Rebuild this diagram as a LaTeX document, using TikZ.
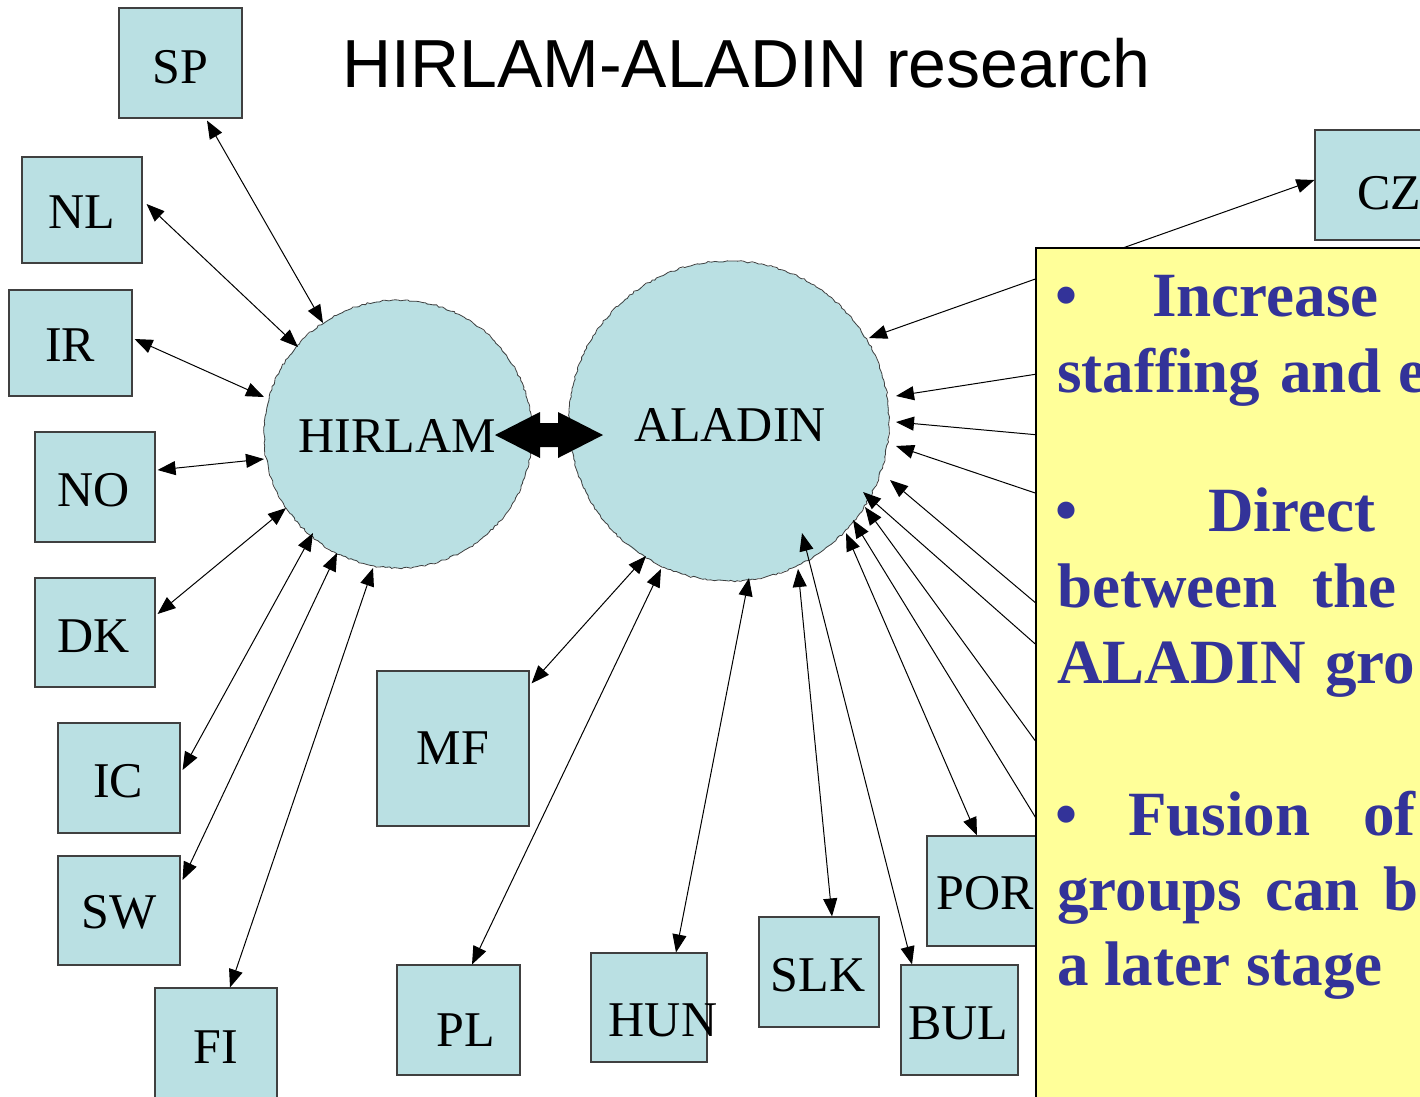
\documentclass[tikz,border=0pt]{standalone}
\usepackage{fontspec}
\setmainfont{Liberation Serif}
\newfontfamily\titlefont{Liberation Sans}
\usetikzlibrary{arrows.meta,calc,decorations.pathmorphing}
\definecolor{cfill}{HTML}{BAE0E3}
\definecolor{boxline}{HTML}{404040}
\definecolor{ynote}{HTML}{FFFF99}
\definecolor{ntext}{HTML}{333399}
\begin{document}
\begin{tikzpicture}[x=1pt,y=-1pt,
 cbox/.style={rectangle, draw=boxline, fill=cfill, line width=1.1pt, inner sep=0pt},
 lbl/.style={anchor=base, inner sep=0pt, font=\fontsize{50}{60}\selectfont},
 lk/.style={line width=1pt, {Triangle[length=18pt,width=14pt]}-{Triangle[length=18pt,width=14pt]}},
 lkone/.style={line width=1pt, -{Triangle[length=18pt,width=14pt]}},
 rough/.style={draw=boxline, line width=0.8pt, decorate, decoration={random steps, segment length=3pt, amplitude=0.9pt}},
 note/.style={anchor=base west, inner sep=0pt, text=ntext, font=\fontsize{63}{72}\selectfont\bfseries},
]
\useasboundingbox (0,0) rectangle (1420,1096);
\clip (0,0) rectangle (1420,1096);

% circles
\node[circle, fill=cfill, minimum size=268pt, inner sep=0pt] (HIRLAM) at (398,434) {};
\node[circle, fill=cfill, minimum size=320pt, inner sep=0pt] (ALADIN) at (729,421) {};
\draw[rough] (HIRLAM.center) circle[radius=134];
\draw[rough] (ALADIN.center) circle[radius=160];

% boxes
\node[cbox, minimum width=123pt, minimum height=110pt] (SP) at (180.5,63) {};
\node[cbox, minimum width=120pt, minimum height=106pt] (NL) at (82,210) {};
\node[cbox, minimum width=123pt, minimum height=106pt] (IR) at (70.5,343) {};
\node[cbox, minimum width=120pt, minimum height=110pt] (NO) at (95,487) {};
\node[cbox, minimum width=120pt, minimum height=109pt] (DK) at (95,632.5) {};
\node[cbox, minimum width=122pt, minimum height=110pt] (IC) at (119,778) {};
\node[cbox, minimum width=122pt, minimum height=109pt] (SW) at (119,910.5) {};
\node[cbox, minimum width=122pt, minimum height=110pt] (FI) at (216,1043) {};
\node[cbox, minimum width=152pt, minimum height=155pt] (MF) at (453,748.5) {};
\node[cbox, minimum width=123pt, minimum height=110pt] (PL) at (458.5,1020) {};
\node[cbox, minimum width=116pt, minimum height=109pt] (HUN) at (649,1007.5) {};
\node[cbox, minimum width=120pt, minimum height=110pt] (SLK) at (819,972) {};
\node[cbox, minimum width=117pt, minimum height=110pt] (BUL) at (959.5,1020) {};
\node[cbox, minimum width=120pt, minimum height=110pt] (POR) at (987,891) {};
\node[cbox, minimum width=122pt, minimum height=110pt] (CZ) at (1376,185) {};

% connectors HIRLAM
\draw[lk] ($(SP.south)+(26.5,2)$) -- ($(HIRLAM.center)+(-75,-111)$);
\draw[lk] ($(NL.east)+(4,-6)$) -- ($(HIRLAM.center)+(-100,-87)$);
\draw[lk] ($(IR.east)+(2,-4)$) -- ($(HIRLAM.center)+(-134,-37)$);
\draw[lk] ($(NO.east)+(2,-17)$) -- ($(HIRLAM.center)+(-134,25)$);
\draw[lk] ($(DK.east)+(2,-18.5)$) -- ($(HIRLAM.center)+(-112,74)$);
\draw[lk] ($(IC.east)+(2,-8)$) -- ($(HIRLAM.center)+(-85,99)$);
\draw[lk] ($(SW.east)+(2,-30.5)$) -- ($(HIRLAM.center)+(-61,119)$);
\draw[lk] ($(FI.north)+(14,0)$) -- ($(HIRLAM.center)+(-25,134)$);

% connectors ALADIN
\draw[lk] ($(MF.north east)+(2,13)$) -- ($(ALADIN.center)+(-83,135)$);
\draw[lk] ($(PL.north)+(13.5,0)$) -- ($(ALADIN.center)+(-68,148)$);
\draw[lk] ($(HUN.north)+(27,0)$) -- ($(ALADIN.center)+(20,157)$);
\draw[lk] ($(SLK.north)+(13,0)$) -- ($(ALADIN.center)+(69,148)$);
\draw[lk] ($(BUL.north)+(-47.5,0)$) -- ($(ALADIN.center)+(73,112)$);
\draw[lk] ($(POR.north)+(-10,0)$) -- ($(ALADIN.center)+(117,112)$);
\draw[lk] ($(CZ.west)+(0,-5)$) -- ($(ALADIN.center)+(140,-83)$);

\coordinate (e2) at (1050,372);
\coordinate (e3) at (1050,436);
\coordinate (e4) at (1050,498);
\coordinate (e5) at (1050,615);
\coordinate (e6) at (1050,657);
\coordinate (e7) at (1050,761);
\coordinate (e8) at (1050,841);
\draw[lkone] (e2) -- ($(ALADIN.center)+(167,-25)$);
\draw[lkone] (e3) -- ($(ALADIN.center)+(167,1)$);
\draw[lkone] (e4) -- ($(ALADIN.center)+(167,25)$);
\draw[lkone] (e5) -- ($(ALADIN.center)+(161,59)$);
\draw[lkone] (e6) -- ($(ALADIN.center)+(134,71)$);
\draw[lkone] (e7) -- ($(ALADIN.center)+(136,86)$);
\draw[lkone] (e8) -- ($(ALADIN.center)+(124,99)$);

% labels
\node[lbl] (SPt) at (180.5,83) {SP};
\node[lbl] (NLt) at (82,228) {NL};
\node[lbl] (IRt) at (70,361) {IR};
\node[lbl] (NOt) at (94,506) {NO};
\node[lbl] (DKt) at (94,652) {DK};
\node[lbl] (ICt) at (118,797) {IC};
\node[lbl] (SWt) at (119,928) {SW};
\node[lbl] (FIt) at (216,1063) {FI};
\node[lbl] (MFt) at (453,764) {MF};
\node[lbl] (PLt) at (466,1046) {PL};
\node[lbl] (HUNt) at (663,1036) {HUN};
\node[lbl] (SLKt) at (818,991) {SLK};
\node[lbl] (BULt) at (958,1039) {BUL};
\node[lbl] (PORt) at (985,909) {POR};
\node[lbl, anchor=base west] (CZt) at (1357,209) {CZ};
\node[lbl] (HIRLAMt) at (397,452) {HIRLAM};
\node[lbl] (ALADINt) at (730,441) {ALADIN};

% double arrow between the circles
\fill[black] (495,435) -- (540,412) -- (540,423) -- (558,423) -- (558,412) -- (603,435)
  -- (558,458) -- (558,447) -- (540,447) -- (540,458) -- cycle;

% title
\node[anchor=base west, inner sep=0pt, font=\titlefont\fontsize{68}{80}\selectfont] (title) at (342,87) {HIRLAM-ALADIN research};

% note box
\node[draw=black, line width=2pt, fill=ynote, anchor=north west, minimum width=420pt, minimum height=870pt, inner sep=0pt] (notebox) at (1035,247) {};
\node[note] (b1) at (1055,316) {•};
\node[note] (w1) at (1152,316) {Increase};
\node[note] (w2) at (1057,392) {staffing};
\node[note] (w3) at (1280,392) {and};
\node[note] (w4) at (1398,392) {e};
\node[note] (b2) at (1055,531) {•};
\node[note] (w5) at (1208,531) {Direct};
\node[note] (w6) at (1057,607) {between};
\node[note] (w7) at (1312,607) {the};
\node[note] (w8) at (1057,683) {ALADIN};
\node[note] (w9) at (1325,683) {gro};
\node[note] (b3) at (1055,835) {•};
\node[note] (w10) at (1128,835) {Fusion};
\node[note] (w11) at (1363,835) {of};
\node[note] (w12) at (1057,910) {groups};
\node[note] (w13) at (1265,910) {can};
\node[note] (w14) at (1383,910) {b};
\node[note] (w15) at (1057,985) {a later stage};
\end{tikzpicture}
\end{document}
